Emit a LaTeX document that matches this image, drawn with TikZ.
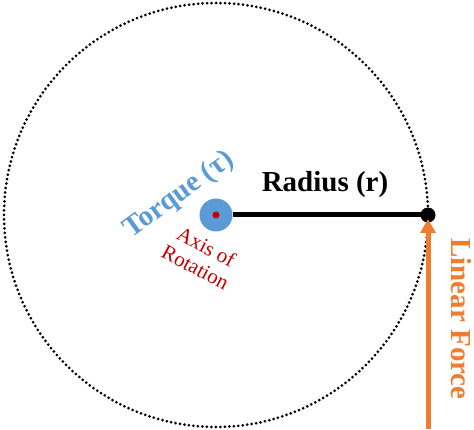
\documentclass[tikz,border=0pt]{standalone}
\usepackage{fontspec}
\setmainfont{Liberation Serif}
\usetikzlibrary{arrows.meta}
\definecolor{torqueblue}{HTML}{5B9BD5}
\definecolor{forceorange}{HTML}{ED7D31}
\definecolor{axisred}{HTML}{C00000}
\tikzset{
  label text/.style={font=\bfseries\fontsize{29}{30}\selectfont, inner sep=0pt},
  axis text/.style={font=\fontsize{21}{23}\selectfont, align=center, text=axisred, inner sep=0pt}
}
\begin{document}
\begin{tikzpicture}[x=1pt,y=1pt]
    \useasboundingbox (0,0) rectangle (474,429);
    % path of the rotating point
    \draw [line width=3pt, dash pattern=on 0pt off 4.5pt, line cap=round] (216,214) circle (212);
    \node (axis) [circle, fill=torqueblue, minimum size=33pt, inner sep=0pt] at (216,214) {};
    \node (pivot) [circle, fill=axisred, minimum size=7pt, inner sep=0pt] at (axis.center) {};
    \node (tip) [circle, fill=black, minimum size=15pt, inner sep=0pt] at (428,214) {};
    \draw [line width=5pt] (axis.east) -- (tip.center);
    \coordinate (base) at (428,0);
    \draw [line width=5pt, forceorange, -{Triangle[length=14pt,width=15pt]}] (base) -- ([yshift=-4pt]tip.center);
    \node (radius) [label text] at (325,244) {Radius (r)};
    \node (torque) [label text, text=torqueblue, rotate=36] at (179,234) {Torque (τ)};
    \node (rotaxis) [axis text, rotate=-28] at (201,172) {Axis of\\Rotation};
    \node (force) [label text, text=forceorange, rotate=-90] at (461,110) {Linear Force};
\end{tikzpicture}
\end{document}
